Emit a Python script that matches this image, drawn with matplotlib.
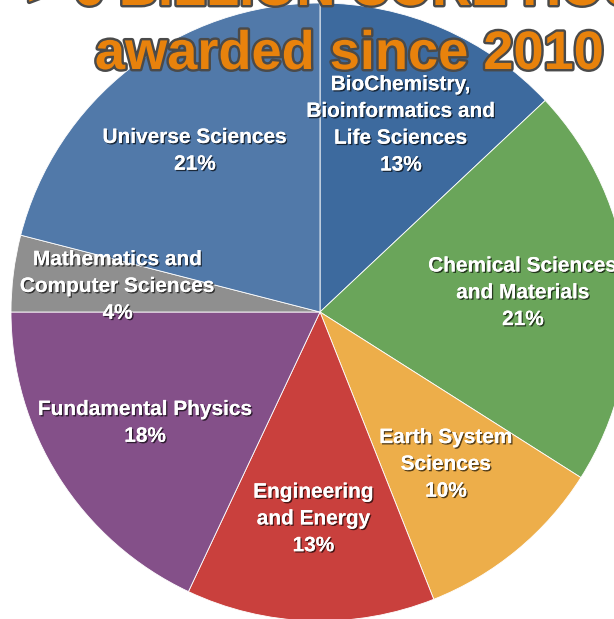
import numpy as np
import matplotlib.pyplot as plt
import matplotlib.patheffects as pe

labels = ['BioChemistry,\nBioinformatics and\nLife Sciences',
          'Chemical Sciences\nand Materials',
          'Earth System\nSciences',
          'Engineering\nand Energy',
          'Fundamental Physics',
          'Mathematics and\nComputer Sciences',
          'Universe Sciences']
shares = [13, 21, 10, 13, 18, 4, 21]
colors = ['#3D6A9E', '#6AA55A', '#EDAE4A', '#C9403D', '#845089', '#8F8F8F', '#5179A9']
label_r = [0.66, 0.66, 0.64, 0.67, 0.67, 0.66, 0.66]

W, H = 614, 619
fig = plt.figure(figsize=(W / 100, H / 100), dpi=100)
ax = fig.add_axes([0, 0, 1, 1])

cx, cy, R = 320, H - 312, 309
wedges, _ = ax.pie(shares, colors=colors, startangle=90, counterclock=False,
                   center=(cx, cy), radius=R, frame=True,
                   wedgeprops=dict(edgecolor='white', linewidth=0.6))
ax.set_xlim(0, W)
ax.set_ylim(0, H)
ax.set_aspect('equal')
ax.axis('off')

shadow = [pe.withSimplePatchShadow(offset=(1, -1), shadow_rgbFace='black', alpha=0.65),
          pe.Normal()]
for w, lab, s, r in zip(wedges, labels, shares, label_r):
    ang = np.deg2rad((w.theta1 + w.theta2) / 2)
    x = cx + r * R * np.cos(ang)
    y = cy + r * R * np.sin(ang)
    ax.text(x, y, f'{lab}\n{s}%', ha='center', va='center', color='white',
            fontsize=15, fontweight='bold', linespacing=1.52,
            family='Liberation Sans', path_effects=shadow)

# title, first line is mostly cut off at the top like in the source image
title_fx = [pe.withStroke(linewidth=3.5, foreground='#4a4a4a')]
ax.text(372, H - 5, '> 6 BILLION CORE HOURS', ha='center', va='baseline', color='#E8820C',
        fontsize=39, fontweight='bold', family='Liberation Sans', path_effects=title_fx)
ax.text(349, H - 69, 'awarded since 2010', ha='center', va='baseline', color='#E8820C',
        fontsize=39, fontweight='bold', family='Liberation Sans', path_effects=title_fx)

fig.savefig('out.png', dpi=100)
